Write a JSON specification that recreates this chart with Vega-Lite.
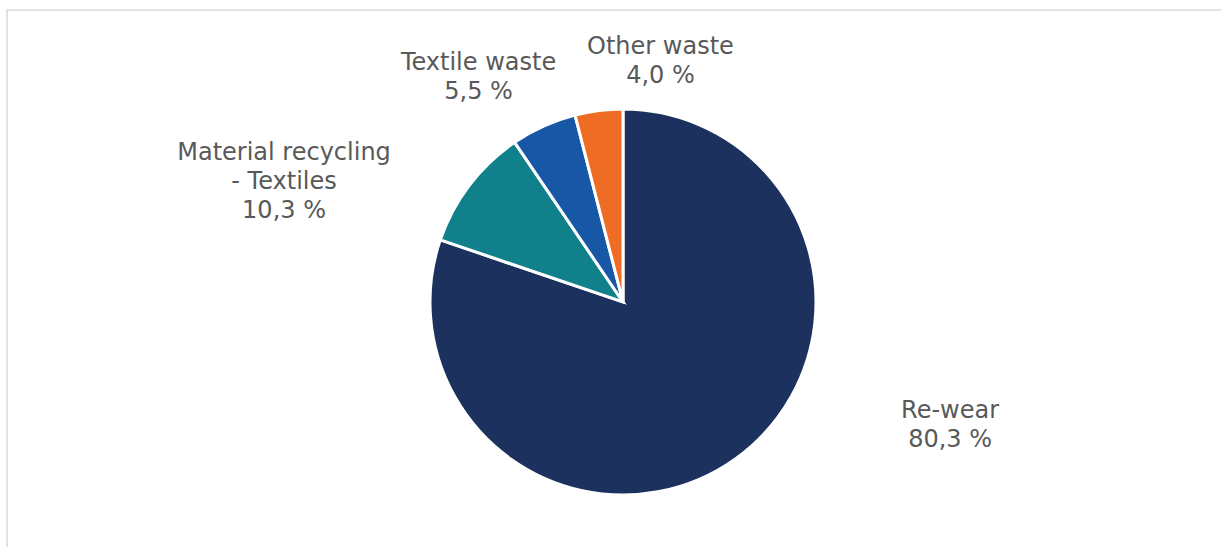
{
  "$schema": "https://vega.github.io/schema/vega-lite/v6.json",
  "autosize": {"type": "none"},
  "padding": {"left": 7, "top": 10, "right": 0, "bottom": 0},
  "width": 1232,
  "height": 584,
  "background": "#ffffff",
  "view": {"stroke": "#D9D9D9", "strokeWidth": 1.5},
  "config": {
    "view": {"stroke": "#D9D9D9", "strokeWidth": 1.5},
    "text": {"font": "DejaVu Sans", "fontSize": 24, "fill": "#595959", "lineBreak": "\n", "lineHeight": 29, "align": "center", "baseline": "middle"}
  },
  "data": {
    "values": [
      {"category": "Re-wear", "value": 80.3, "order": 1, "label": "Re-wear\n80,3 %"},
      {"category": "Material recycling - Textiles", "value": 10.3, "order": 2, "label": "Material recycling\n- Textiles\n10,3 %"},
      {"category": "Textile waste", "value": 5.5, "order": 3, "label": "Textile waste\n5,5 %"},
      {"category": "Other waste", "value": 4.0, "order": 4, "label": "Other waste\n4,0 %"}
    ]
  },
  "encoding": {
    "theta": {"field": "value", "type": "quantitative", "stack": true},
    "order": {"field": "order", "type": "quantitative"}
  },
  "layer": [
    {
      "mark": {"type": "arc", "outerRadius": 193, "stroke": "#ffffff", "strokeWidth": 3},
      "encoding": {
        "color": {
          "field": "category",
          "type": "nominal",
          "scale": {
            "domain": ["Re-wear", "Material recycling - Textiles", "Textile waste", "Other waste"],
            "range": ["#1C315E", "#10818A", "#1757A6", "#EE6C23"]
          },
          "legend": null
        }
      }
    },
    {
      "mark": {"type": "text", "radius": 220, "dx": 199, "dy": -70},
      "encoding": {"text": {"condition": {"test": "datum.category === 'Re-wear'", "field": "label"}, "value": ""}}
    },
    {
      "mark": {"type": "text", "radius": 220, "dx": -164, "dy": -16},
      "encoding": {"text": {"condition": {"test": "datum.category === 'Material recycling - Textiles'", "field": "label"}, "value": ""}}
    },
    {
      "mark": {"type": "text", "radius": 220, "dx": -54, "dy": -38},
      "encoding": {"text": {"condition": {"test": "datum.category === 'Textile waste'", "field": "label"}, "value": ""}}
    },
    {
      "mark": {"type": "text", "radius": 220, "dx": 65, "dy": -37},
      "encoding": {"text": {"condition": {"test": "datum.category === 'Other waste'", "field": "label"}, "value": ""}}
    }
  ]
}
